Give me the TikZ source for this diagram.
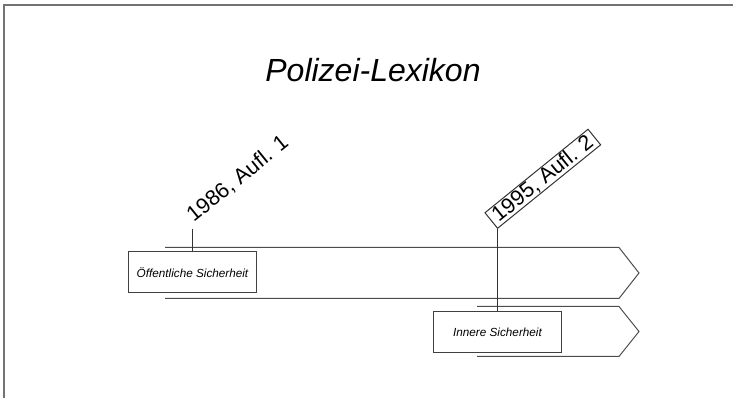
\documentclass[tikz,border=0pt]{standalone}
\usepackage{fontspec}
\setmainfont{Liberation Sans}
\usepackage{tikz}
\usetikzlibrary{positioning}

\begin{document}
\begin{tikzpicture}[
        x=0.75pt, y=-0.75pt,
        frame/.style={draw=black!55, line width=1.1pt},
        band/.style={draw=black!70, line width=0.75pt},
        phase/.style={rectangle, minimum width=96pt, minimum height=30.75pt, inner sep=0pt, text centered, draw=black!75, line width=0.75pt, font=\fontsize{8.8}{10}\selectfont\itshape},
        edition/.style={anchor=south west, rotate=39, inner xsep=3.5pt, inner ysep=0.6pt, font=\fontsize{16.2}{19}\selectfont},
        tick/.style={draw=black!80, line width=0.75pt}
    ]
    \useasboundingbox (0,0) rectangle (733,398);

    % --- FRAME & TITLE ---
    \draw [frame] (4,398) -- (4,5) -- (733,5);
    \node (title) [anchor=base, font=\fontsize{24}{28}\selectfont\itshape] at (373,82) {Polizei-Lexikon};

    % --- BANDS ---
    \draw [band] (165,247.5) -- (619,247.5) -- (639,273) -- (619,298.5) -- (165,298.5);
    \draw [band] (477,306.5) -- (619,306.5) -- (639,331.5) -- (619,356.5) -- (477,356.5);

    % --- NODES ---
    \node (oeff) [phase, fill=white] at (192.5,272.5) {Öffentliche Sicherheit};
    \node (innere) [phase, fill=white] at (497.5,332) {Innere Sicherheit};
    \node (aufl1) [edition] at (192.5,229) {1986, Aufl. 1};
    \node (aufl2) [edition, draw=black!80, line width=0.75pt] at (497.5,229) {1995, Aufl. 2};

    % --- TICKS ---
    \draw [tick] (aufl1.south west) -- (oeff);
    \draw [tick] (aufl2.south west) -- (innere);

\end{tikzpicture}
\end{document}
